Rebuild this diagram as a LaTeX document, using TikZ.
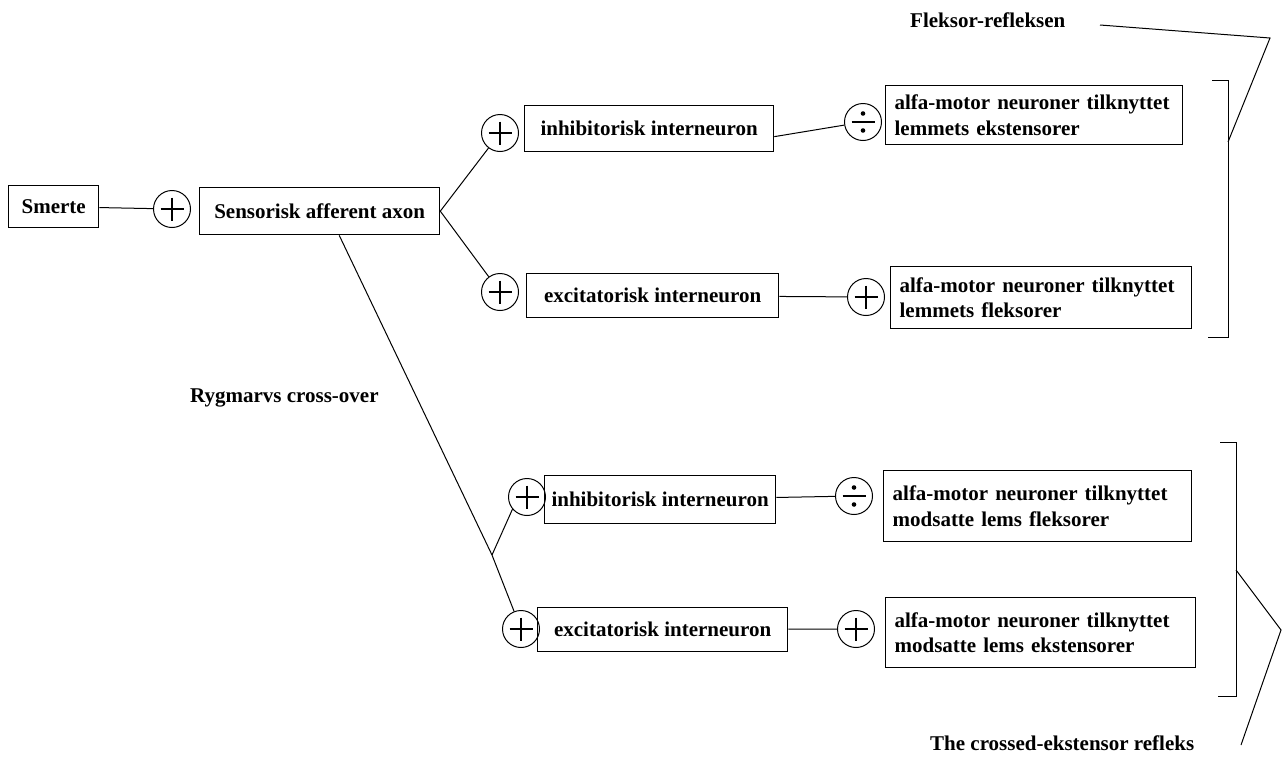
\documentclass[tikz,border=0pt]{standalone}
\usepackage{fontspec}
\setmainfont{Liberation Serif}
\usetikzlibrary{calc}
\begin{document}
\begin{tikzpicture}[x=1pt,y=-1pt,
  every node/.style={font=\fontsize{21}{25.5}\selectfont\bfseries},
  wire/.style={line width=1pt},
  box/.style={draw, line width=1.3pt, inner sep=0pt, anchor=north west},
  mbox/.style={draw, line width=1.3pt, align=left, inner xsep=9pt, inner ysep=0pt, anchor=north west},
  lbl/.style={anchor=base west, inner sep=0pt},
  plusc/.style={circle, draw, line width=1pt, minimum size=37pt, inner sep=0pt,
    path picture={\draw[line width=1.1pt]
      ($(path picture bounding box.center)+(-11.5,0)$) -- ++(23,0)
      ($(path picture bounding box.center)+(0,-11.5)$) -- ++(0,23);}},
  divc/.style={circle, draw, line width=1pt, minimum size=37pt, inner sep=0pt,
    path picture={\draw[line width=1.1pt]
      ($(path picture bounding box.center)+(-11.5,0)$) -- ++(23,0);
      \fill ($(path picture bounding box.center)+(0,-8.5)$) circle (2.3pt)
            ($(path picture bounding box.center)+(0,8.5)$) circle (2.3pt);}}
]
\useasboundingbox (0,0) rectangle (1282,758);

% input side
\node[box, minimum width=90pt, minimum height=42pt] (smerte) at (8,185) {Smerte};
\node[plusc] (c1) at (172,209) {};
\node[box, minimum width=240pt, minimum height=47pt] (sens) at (199,187) {Sensorisk afferent axon};

% ipsilateral branch
\node[plusc] (ci1) at (500,133) {};
\node[box, minimum width=249pt, minimum height=46pt] (inh1) at (524,105) {inhibitorisk interneuron};
\node[divc] (dv1) at (863,122) {};
\node[mbox, text width=279pt, minimum height=59pt] (m1) at (885,85)
  {alfa-motor neuroner tilknyttet\\lemmets ekstensorer};

\node[plusc] (ce1) at (500,292) {};
\node[box, minimum width=252pt, minimum height=44pt] (exc1) at (526,273) {excitatorisk interneuron};
\node[plusc] (pe1) at (866,297) {};
\node[mbox, text width=283pt, minimum height=62pt] (m2) at (890,266)
  {alfa-motor neuroner tilknyttet\\lemmets fleksorer};

% contralateral branch
\node[plusc] (ci2) at (527,497) {};
\node[box, minimum width=231pt, minimum height=48pt] (inh2) at (544,475) {inhibitorisk interneuron};
\node[divc] (dv2) at (854,496) {};
\node[mbox, text width=290pt, minimum height=71pt] (m3) at (883,470)
  {alfa-motor neuroner tilknyttet\\modsatte lems fleksorer};

\node[plusc] (ce2) at (521,629) {};
\node[box, minimum width=250pt, minimum height=44pt] (exc2) at (537,607) {excitatorisk interneuron};
\node[plusc] (pe2) at (856,629) {};
\node[mbox, text width=292pt, minimum height=70pt] (m4) at (885,597)
  {alfa-motor neuroner tilknyttet\\modsatte lems ekstensorer};

% free labels
\node[lbl] (flek) at (910,27) {Fleksor-refleksen};
\node[lbl] (ryg) at (190,402) {Rygmarvs cross-over};
\node[lbl] (cross) at (930,750) {The crossed-ekstensor refleks};

% connectors
\draw[wire] (smerte) -- (c1);
\draw[wire] (sens.east) -- (ci1);
\draw[wire] (sens.east) -- (ce1);
\draw[wire] ([yshift=-8pt]inh1.east) -- (dv1);
\draw[wire] (exc1) -- (pe1);
\coordinate (xj) at (492,555);
\draw[wire] (sens.-51) -- (xj) -- (ce2);
\draw[wire] (xj) -- (ci2.220);
\draw[wire] (inh2) -- (dv2);
\draw[wire] (exc2) -- (pe2);

% brackets and their pointers
\coordinate (b1a) at (1212,80);
\coordinate (b1b) at (1228,80);
\coordinate (b1c) at (1228,337);
\coordinate (b1d) at (1208,337);
\coordinate (b1m) at (1228,142);
\draw[wire] (b1a) -- (b1b) -- (b1c) -- (b1d);
\coordinate (f0) at (1100,25);
\coordinate (fa) at (1270,38);
\draw[wire] (f0) -- (fa) -- (b1m);

\coordinate (b2a) at (1220,442);
\coordinate (b2b) at (1236,442);
\coordinate (b2c) at (1236,696);
\coordinate (b2d) at (1218,696);
\coordinate (b2m) at (1236,570);
\draw[wire] (b2a) -- (b2b) -- (b2c) -- (b2d);
\coordinate (ca) at (1281,630);
\coordinate (c0) at (1241,745);
\draw[wire] (b2m) -- (ca) -- (c0);
\end{tikzpicture}
\end{document}
